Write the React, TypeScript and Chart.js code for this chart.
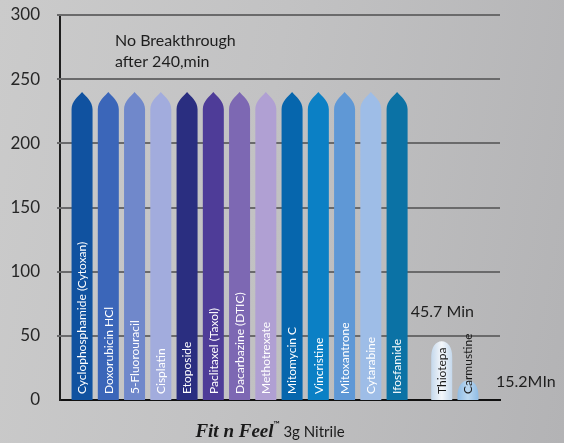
import React, { useEffect, useRef } from "react";
import { Chart, registerables } from "chart.js";

Chart.register(...registerables);

// ---- data ----
const noBreakthroughDrugs = [
  "Cyclophosphamide (Cytoxan)",
  "Doxorubicin HCl",
  "5-Fluorouracil",
  "Cisplatin",
  "Etoposide",
  "Paclitaxel (Taxol)",
  "Dacarbazine (DTIC)",
  "Methotrexate",
  "Mitomycin C",
  "Vincristine",
  "Mitoxantrone",
  "Cytarabine",
  "Ifosfamide",
];
const noBreakthroughMinutes = [240, 240, 240, 240, 240, 240, 240, 240, 240, 240, 240, 240, 240];

const breakthroughDrugs = ["Thiotepa", "Carmustine"];
const breakthroughMinutes = [45.7, 15.2];
const breakthroughLabels = ["45.7 Min", "15.2MIn"];

const yMin = 0;
const yMax = 300;
const yStep = 50;

// ---- styles ----
const mainColors = [
  "#1052a0",
  "#3b66b9",
  "#7088cb",
  "#a2acdd",
  "#2a2e80",
  "#4e3c98",
  "#7d68b3",
  "#b0a0d3",
  "#0666ad",
  "#0b80c5",
  "#5f98d6",
  "#9ebde7",
  "#0b72a5",
];
const breakColors = [
  ["#c4d8ec", "#f4f7fb", "#c4d8ec"],
  ["#8fbce5", "#bcd8f0", "#8fbce5"],
];
const GROUP_GAP = 0.7;
const FONT = "Lato, 'Open Sans', sans-serif";
const GRID_COLOR = "#6a6a6b";

const allDrugs = [...noBreakthroughDrugs, ...breakthroughDrugs];
const n1 = noBreakthroughDrugs.length;

function drawGrid(chart: any) {
  const ctx = chart.ctx;
  const area = chart.chartArea;
  const ys = chart.scales.y;
  ctx.save();
  ctx.fillStyle = GRID_COLOR;
  const ticks = ys.getTicks();
  ticks.forEach((t: any) => {
    if (t.value === yMin) return;
    const py = Math.round(ys.getPixelForValue(t.value));
    ctx.fillRect(area.left - 3, py - 1, area.right - area.left + 3, 2);
  });
  ctx.restore();
}

function drawBars(chart: any) {
  const ctx = chart.ctx;
  const meta = chart.getDatasetMeta(0);
  ctx.save();
  meta.data.forEach((el: any, i: number) => {
    const { x, y, base, width } = el.getProps(["x", "y", "base", "width"], true);
    const l = x - width / 2;
    const r = x + width / 2;
    ctx.beginPath();
    if (i < n1) {
      const tipH = width * 0.82;
      ctx.moveTo(l, base);
      ctx.lineTo(l, y + tipH);
      ctx.bezierCurveTo(l, y + tipH * 0.55, x - width * 0.18, y + tipH * 0.25, x, y);
      ctx.bezierCurveTo(x + width * 0.18, y + tipH * 0.25, r, y + tipH * 0.55, r, y + tipH);
      ctx.lineTo(r, base);
      ctx.closePath();
      ctx.fillStyle = mainColors[i];
    } else {
      const capH = Math.min(width * 0.75, (base - y) * 0.8);
      ctx.moveTo(l, base);
      ctx.lineTo(l, y + capH);
      ctx.bezierCurveTo(l, y + capH * 0.4, x - width * 0.3, y, x, y);
      ctx.bezierCurveTo(x + width * 0.3, y, r, y + capH * 0.4, r, y + capH);
      ctx.lineTo(r, base);
      ctx.closePath();
      const c = breakColors[i - n1];
      const g = ctx.createLinearGradient(l, 0, r, 0);
      g.addColorStop(0, c[0]);
      g.addColorStop(0.5, c[1]);
      g.addColorStop(1, c[2]);
      ctx.fillStyle = g;
    }
    ctx.fill();
  });
  ctx.restore();
}

const shapedBars = {
  id: "shapedBars",
  beforeDatasetDraw() {
    return false;
  },
  afterDatasetsDraw(chart: any) {
    drawGrid(chart);
    drawBars(chart);
    const ctx = chart.ctx;
    const meta = chart.getDatasetMeta(0);
    const area = chart.chartArea;
    ctx.save();
    meta.data.forEach((el: any, i: number) => {
      const { x, base } = el.getProps(["x", "base"], true);
      ctx.save();
      ctx.translate(x + 0.5, base - 6);
      ctx.rotate(-Math.PI / 2);
      ctx.font = `12px ${FONT}`;
      ctx.textAlign = "left";
      ctx.textBaseline = "middle";
      ctx.fillStyle = i < n1 ? "#ffffff" : "#1a1a1a";
      ctx.fillText(allDrugs[i], 0, 0);
      ctx.restore();
    });
    ctx.fillStyle = "#1e1e1e";
    ctx.font = `16px ${FONT}`;
    ctx.textAlign = "left";
    ctx.textBaseline = "alphabetic";
    ctx.fillText("No Breakthrough", area.left + 55, area.top + 31);
    ctx.fillText("after 240,min", area.left + 55, area.top + 52);
    const t = meta.data[n1].getProps(["x", "y"], true);
    ctx.fillText(breakthroughLabels[0], t.x - 31, t.y - 24);
    const c = meta.data[n1 + 1].getProps(["x", "y"], true);
    ctx.fillText(breakthroughLabels[1], c.x + 28, c.y + 7);
    ctx.restore();
  },
  afterDraw(chart: any) {
    const ctx = chart.ctx;
    const area = chart.chartArea;
    ctx.save();
    ctx.fillStyle = "#1a1a1a";
    ctx.textBaseline = "alphabetic";
    ctx.textAlign = "left";
    const part1 = "Fit n Feel";
    const tm = "™";
    const part2 = " 3g Nitrile";
    const f1 = "bold italic 19px 'Liberation Serif', serif";
    const f2 = "bold 8px " + FONT;
    const f3 = `15px ${FONT}`;
    ctx.font = f1;
    const w1 = ctx.measureText(part1).width;
    ctx.font = f2;
    const w2 = ctx.measureText(tm).width;
    ctx.font = f3;
    const w3 = ctx.measureText(part2).width;
    const total = w1 + w2 + w3;
    let x = (area.left + area.right) / 2 - 10 - total / 2;
    const yb = area.bottom + 37;
    ctx.font = f1;
    ctx.fillText(part1, x, yb);
    x += w1;
    ctx.font = f2;
    ctx.fillText(tm, x, yb - 10);
    x += w2;
    ctx.font = f3;
    ctx.fillText(part2, x, yb);
    ctx.restore();
  },
};

export default function App() {
  const ref = useRef<HTMLCanvasElement | null>(null);

  useEffect(() => {
    if (!ref.current) return;
    const data = [
      ...noBreakthroughMinutes.map((v, i) => ({ x: i, y: v })),
      ...breakthroughMinutes.map((v, j) => ({ x: n1 + GROUP_GAP + j, y: v })),
    ];
    const chart = new Chart(ref.current, {
      type: "bar",
      data: {
        datasets: [
          {
            data,
            barThickness: 21,
            backgroundColor: mainColors,
          },
        ],
      },
      options: {
        animation: false,
        responsive: false,
        layout: { padding: { top: 15, right: 64, left: 0, bottom: 0 } },
        plugins: {
          legend: { display: false },
          tooltip: { enabled: false },
        },
        scales: {
          x: {
            type: "linear",
            offset: false,
            min: -0.84,
            max: 15.92,
            ticks: { display: false },
            grid: { display: false },
            border: { display: true, color: "#111111", width: 2 },
            afterFit: (s: any) => {
              s.height = 43;
            },
          },
          y: {
            min: yMin,
            max: yMax,
            ticks: {
              stepSize: yStep,
              color: "#262626",
              font: { family: FONT, size: 17 },
              padding: 12,
            },
            grid: {
              display: false,
            },
            border: { display: true, color: "#1e1e1e", width: 2 },
            afterFit: (s: any) => {
              s.width = 60;
              s.paddingTop = 0;
              s.paddingBottom = 0;
            },
          },
        },
      },
      plugins: [shapedBars],
    });
    return () => chart.destroy();
  }, []);

  return (
    <div
      style={{
        position: "absolute",
        left: 0,
        top: 0,
        width: 564,
        height: 443,
        overflow: "hidden",
        background:
          "linear-gradient(100deg, #cbcbcb 0%, #c2c2c3 45%, #b3b3b5 100%)",
      }}
    >
      <canvas ref={ref} width={564} height={443} style={{ display: "block" }} />
    </div>
  );
}
